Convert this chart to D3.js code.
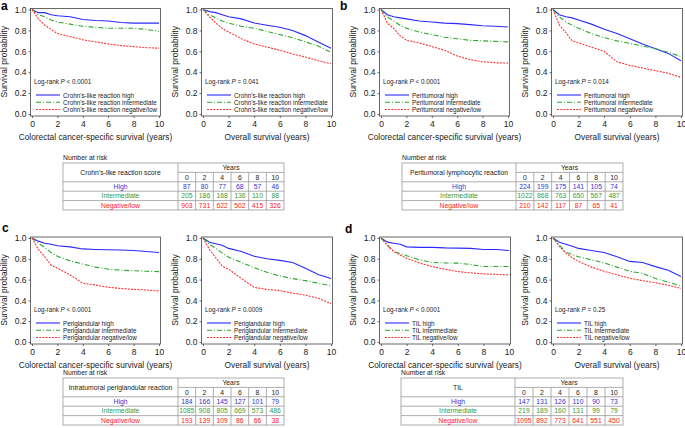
<!DOCTYPE html>
<html><head><meta charset="utf-8">
<script src="https://cdn.jsdelivr.net/npm/d3@7"></script>
<style>
body{margin:0;background:#fff;}
svg{display:block;font-family:"Liberation Sans",Arial,Helvetica,sans-serif;}
</style></head>
<body>
<svg id="c" width="685" height="428"></svg>
<script>
// ---------- DATA ----------
const times = [0, 0.5, 1, 1.5, 2, 3, 4, 5, 6, 7, 8, 9, 10];
const xTicks = [0, 2, 4, 6, 8, 10];
const yTicks = [0, 0.2, 0.4, 0.6, 0.8, 1.0];
const riskYears = [0, 2, 4, 6, 8, 10];
const groupNames = ["High", "Intermediate", "Negative/low"];

// panel a – Crohn's-like reaction
const aCssHigh = [1, 0.97, 0.97, 0.95, 0.94, 0.93, 0.905, 0.895, 0.89, 0.875, 0.87, 0.87, 0.87];
const aCssInt  = [1, 0.95, 0.93, 0.90, 0.88, 0.86, 0.84, 0.83, 0.82, 0.82, 0.82, 0.81, 0.79];
const aCssNeg  = [1, 0.91, 0.85, 0.81, 0.77, 0.74, 0.71, 0.69, 0.67, 0.655, 0.645, 0.635, 0.63];
const aOsHigh  = [1, 0.98, 0.97, 0.95, 0.93, 0.91, 0.87, 0.85, 0.83, 0.80, 0.75, 0.69, 0.63];
const aOsInt   = [1, 0.95, 0.92, 0.89, 0.87, 0.84, 0.82, 0.79, 0.76, 0.73, 0.69, 0.65, 0.59];
const aOsNeg   = [1, 0.93, 0.87, 0.82, 0.785, 0.72, 0.67, 0.64, 0.61, 0.575, 0.545, 0.51, 0.48];
// panel b – Peritumoral lymphocytic reaction
const bCssHigh = [1, 0.95, 0.93, 0.92, 0.91, 0.89, 0.88, 0.87, 0.865, 0.855, 0.845, 0.84, 0.833];
const bCssInt  = [1, 0.93, 0.89, 0.85, 0.82, 0.785, 0.76, 0.735, 0.72, 0.705, 0.70, 0.695, 0.69];
const bCssNeg  = [1, 0.87, 0.82, 0.75, 0.705, 0.68, 0.645, 0.61, 0.555, 0.52, 0.50, 0.49, 0.487];
const bOsHigh  = [1, 0.95, 0.93, 0.92, 0.90, 0.86, 0.81, 0.77, 0.72, 0.67, 0.625, 0.58, 0.51];
const bOsInt   = [1, 0.93, 0.88, 0.85, 0.82, 0.77, 0.73, 0.70, 0.675, 0.65, 0.625, 0.59, 0.55];
const bOsNeg   = [1, 0.85, 0.78, 0.70, 0.68, 0.64, 0.60, 0.50, 0.465, 0.44, 0.415, 0.39, 0.35];
// panel c – Intratumoral periglandular reaction
const cCssHigh = [1, 0.97, 0.95, 0.94, 0.925, 0.915, 0.895, 0.89, 0.887, 0.885, 0.88, 0.87, 0.86];
const cCssInt  = [1, 0.95, 0.91, 0.86, 0.825, 0.78, 0.75, 0.72, 0.70, 0.69, 0.685, 0.68, 0.677];
const cCssNeg  = [1, 0.89, 0.82, 0.74, 0.71, 0.645, 0.565, 0.548, 0.526, 0.515, 0.506, 0.50, 0.49];
const cOsHigh  = [1, 0.96, 0.945, 0.93, 0.90, 0.87, 0.825, 0.80, 0.785, 0.765, 0.71, 0.65, 0.61];
const cOsInt   = [1, 0.94, 0.90, 0.855, 0.815, 0.765, 0.715, 0.67, 0.635, 0.61, 0.59, 0.565, 0.54];
const cOsNeg   = [1, 0.89, 0.81, 0.73, 0.70, 0.61, 0.525, 0.505, 0.494, 0.47, 0.45, 0.42, 0.37];
// panel d – TIL
const dCssHigh = [1, 0.96, 0.95, 0.94, 0.915, 0.91, 0.91, 0.905, 0.903, 0.90, 0.89, 0.89, 0.88];
const dCssInt  = [1, 0.93, 0.87, 0.85, 0.83, 0.79, 0.765, 0.76, 0.758, 0.745, 0.726, 0.726, 0.726];
const dCssNeg  = [1, 0.93, 0.87, 0.835, 0.805, 0.76, 0.725, 0.70, 0.677, 0.665, 0.655, 0.65, 0.645];
const dOsHigh  = [1, 0.96, 0.94, 0.92, 0.90, 0.88, 0.86, 0.82, 0.775, 0.765, 0.725, 0.69, 0.63];
const dOsInt   = [1, 0.93, 0.865, 0.84, 0.82, 0.79, 0.76, 0.72, 0.68, 0.66, 0.61, 0.575, 0.54];
const dOsNeg   = [1, 0.92, 0.855, 0.81, 0.775, 0.72, 0.68, 0.645, 0.613, 0.59, 0.57, 0.545, 0.515];

const legendA = ["Crohn\u2019s-like reaction high", "Crohn\u2019s-like reaction intermediate", "Crohn\u2019s-like reaction negative/low"];
const legendB = ["Peritumoral high", "Peritumoral intermediate", "Peritumoral negative/low"];
const legendC = ["Periglandular high", "Periglandular intermediate", "Periglandular negative/low"];
const legendD = ["TIL high", "TIL intermediate", "TIL negative/low"];
const pValues = ["< 0.0001", "= 0.041", "< 0.0001", "= 0.014", "< 0.0001", "= 0.0009", "< 0.0001", "= 0.25"];
const xTitles = ["Colorectal cancer-specific survival (years)", "Overall survival (years)"];

// numbers at risk
const riskLabelA = "Crohn\u2019s-like reaction score";
const riskAHigh = [87, 80, 77, 68, 57, 46];
const riskAInt  = [205, 186, 168, 136, 110, 88];
const riskANeg  = [903, 731, 622, 502, 415, 326];
const riskLabelB = "Peritumoral lymphocytic reaction";
const riskBHigh = [224, 199, 175, 141, 105, 74];
const riskBInt  = [1022, 868, 763, 650, 567, 487];
const riskBNeg  = [210, 142, 117, 87, 65, 41];
const riskLabelC = "Intratumoral periglandular reaction";
const riskCHigh = [184, 166, 145, 127, 101, 79];
const riskCInt  = [1085, 908, 805, 669, 573, 486];
const riskCNeg  = [193, 139, 109, 86, 66, 38];
const riskLabelD = "TIL";
const riskDHigh = [147, 131, 126, 110, 90, 73];
const riskDInt  = [219, 189, 160, 131, 99, 79];
const riskDNeg  = [1095, 892, 773, 641, 551, 450];

// ---------- STYLE ----------
const lineCol = ["#2a2aff", "#2ea82e", "#ff3030"];
const textCol = ["#3434d0", "#3a9a3a", "#ff2020"];
const dashes = [null, "5,2,1,2", "2,1.2"];
const axisCol = "#444";
const fontTxt = "#222";

const svg = d3.select("#c");

function panel(x0, x10, yTop, yBot, series, legend, pv, xTitle) {
  const x = d3.scaleLinear().domain([0, 10]).range([x0, x10]);
  const y = d3.scaleLinear().domain([0, 1]).range([yBot, yTop]);
  const g = svg.append("g");
  g.append("rect").attr("x", x0 - 1.5).attr("y", yTop - 1).attr("width", x10 - x0 + 3).attr("height", yBot - yTop + 3)
    .attr("fill", "none").attr("stroke", axisCol).attr("stroke-width", 0.8);
  const ax = g.append("g").attr("transform", `translate(0,${yBot + 2})`)
    .call(d3.axisBottom(x).tickValues(xTicks).tickSize(2).tickPadding(3).tickFormat(d3.format("d")));
  const ay = g.append("g").attr("transform", `translate(${x0 - 1.5},0)`)
    .call(d3.axisLeft(y).tickValues(yTicks).tickSize(2).tickPadding(2).tickFormat(d3.format(".1f")));
  [ax, ay].forEach(a => {
    a.select(".domain").remove();
    a.selectAll("line").attr("stroke", axisCol).attr("stroke-width", 0.8);
    a.selectAll("text").attr("font-size", 8.5).attr("fill", fontTxt).attr("font-family", "Liberation Sans, Arial, sans-serif");
  });
  g.append("text").attr("transform", `translate(${x0 - 28},${(yTop + yBot) / 2}) rotate(-90)`)
    .attr("text-anchor", "middle").attr("dominant-baseline", "central")
    .attr("font-size", 8.5).attr("fill", fontTxt).text("Survival probability");
  g.append("text").attr("x", (x0 + x10) / 2).attr("y", yBot + 26).attr("text-anchor", "middle")
    .attr("font-size", 8.3).attr("fill", fontTxt).text(xTitle);
  const line = d3.line().x((d, i) => x(times[i])).y(d => y(d)).curve(d3.curveLinear);
  series.forEach((s, k) => {
    g.append("path").attr("d", line(s)).attr("fill", "none").attr("stroke", lineCol[k])
      .attr("stroke-width", 1.1).attr("stroke-dasharray", dashes[k]);
  });
  const pt = g.append("text").attr("x", x0 + 2).attr("y", yBot - 33).attr("dominant-baseline", "central")
    .attr("font-size", 6.3).attr("fill", fontTxt);
  pt.append("tspan").text("Log-rank ");
  pt.append("tspan").attr("font-style", "italic").text("P");
  pt.append("tspan").text(" " + pv);
  const ly = [yBot - 19, yBot - 11.7, yBot - 4.5];
  legend.forEach((t, k) => {
    g.append("line").attr("x1", x0 + 4).attr("x2", x0 + 28).attr("y1", ly[k]).attr("y2", ly[k])
      .attr("stroke", lineCol[k]).attr("stroke-width", 1.1).attr("stroke-dasharray", dashes[k]);
    g.append("text").attr("x", x0 + 31).attr("y", ly[k]).attr("dominant-baseline", "central")
      .attr("font-size", 6.3).attr("fill", fontTxt).text(t);
  });
}

function table(xl, top, firstW, right, label, rows) {
  const h = 9.4;
  const g = svg.append("g");
  const col = d3.scaleBand().domain(riskYears).range([xl + firstW, right]);
  const gridCol = "#999";
  g.append("text").attr("x", xl).attr("y", top - 6).attr("dominant-baseline", "central")
    .attr("font-size", 6.8).attr("fill", fontTxt).text("Number at risk");
  const ln = (x1, y1, x2, y2) => g.append("line").attr("x1", x1).attr("y1", y1).attr("x2", x2).attr("y2", y2)
    .attr("stroke", gridCol).attr("stroke-width", 0.8);
  g.append("rect").attr("x", xl).attr("y", top).attr("width", right - xl).attr("height", 5 * h)
    .attr("fill", "none").attr("stroke", gridCol).attr("stroke-width", 0.8);
  ln(xl + firstW, top, xl + firstW, top + 5 * h);
  ln(xl + firstW, top + h, right, top + h);
  for (let r = 2; r <= 4; r++) ln(xl, top + r * h, right, top + r * h);
  riskYears.slice(1).forEach(yr => ln(col(yr), top + h, col(yr), top + 5 * h));
  g.append("text").attr("x", xl + firstW / 2).attr("y", top + h).attr("text-anchor", "middle")
    .attr("dominant-baseline", "central").attr("font-size", 6.8).attr("fill", fontTxt).text(label);
  g.append("text").attr("x", (xl + firstW + right) / 2).attr("y", top + h / 2).attr("text-anchor", "middle")
    .attr("dominant-baseline", "central").attr("font-size", 6.8).attr("fill", fontTxt).text("Years");
  riskYears.forEach(yr => g.append("text").attr("x", col(yr) + col.bandwidth() / 2).attr("y", top + 1.5 * h)
    .attr("text-anchor", "middle").attr("dominant-baseline", "central").attr("font-size", 6.8).attr("fill", fontTxt).text(yr));
  rows.forEach((vals, k) => {
    const yy = top + (2.5 + k) * h;
    g.append("text").attr("x", xl + firstW / 2).attr("y", yy).attr("text-anchor", "middle")
      .attr("dominant-baseline", "central").attr("font-size", 6.8).attr("fill", textCol[k]).text(groupNames[k]);
    vals.forEach((v, i) => g.append("text").attr("x", col(riskYears[i]) + col.bandwidth() / 2).attr("y", yy)
      .attr("text-anchor", "middle").attr("dominant-baseline", "central").attr("font-size", 6.8)
      .attr("fill", textCol[k]).text(v));
  });
}

const topY = [9.5, 114], botY = [238, 342];
panel(32, 159, topY[0], topY[1], [aCssHigh, aCssInt, aCssNeg], legendA, pValues[0], xTitles[0]);
panel(203, 331, topY[0], topY[1], [aOsHigh, aOsInt, aOsNeg], legendA, pValues[1], xTitles[1]);
panel(381, 508, topY[0], topY[1], [bCssHigh, bCssInt, bCssNeg], legendB, pValues[2], xTitles[0]);
panel(553, 681, topY[0], topY[1], [bOsHigh, bOsInt, bOsNeg], legendB, pValues[3], xTitles[1]);
panel(32, 159, botY[0], botY[1], [cCssHigh, cCssInt, cCssNeg], legendC, pValues[4], xTitles[0]);
panel(203, 331, botY[0], botY[1], [cOsHigh, cOsInt, cOsNeg], legendC, pValues[5], xTitles[1]);
panel(381, 509, botY[0], botY[1], [dCssHigh, dCssInt, dCssNeg], legendD, pValues[6], xTitles[0]);
panel(553, 681, botY[0], botY[1], [dOsHigh, dOsInt, dOsNeg], legendD, pValues[7], xTitles[1]);

table(63, 163, 115, 284, riskLabelA, [riskAHigh, riskAInt, riskANeg]);
table(402, 163, 114, 623, riskLabelB, [riskBHigh, riskBInt, riskBNeg]);
table(63, 378, 115, 284, riskLabelC, [riskCHigh, riskCInt, riskCNeg]);
table(401, 378, 114, 623, riskLabelD, [riskDHigh, riskDInt, riskDNeg]);

const letters = [["a", 1, 10], ["b", 340, 10], ["c", 2, 232], ["d", 345, 233]];
letters.forEach(([t, x, y]) => svg.append("text").attr("x", x).attr("y", y).attr("font-size", 12)
  .attr("font-weight", "bold").attr("fill", "#000").text(t));
</script>
</body></html>
